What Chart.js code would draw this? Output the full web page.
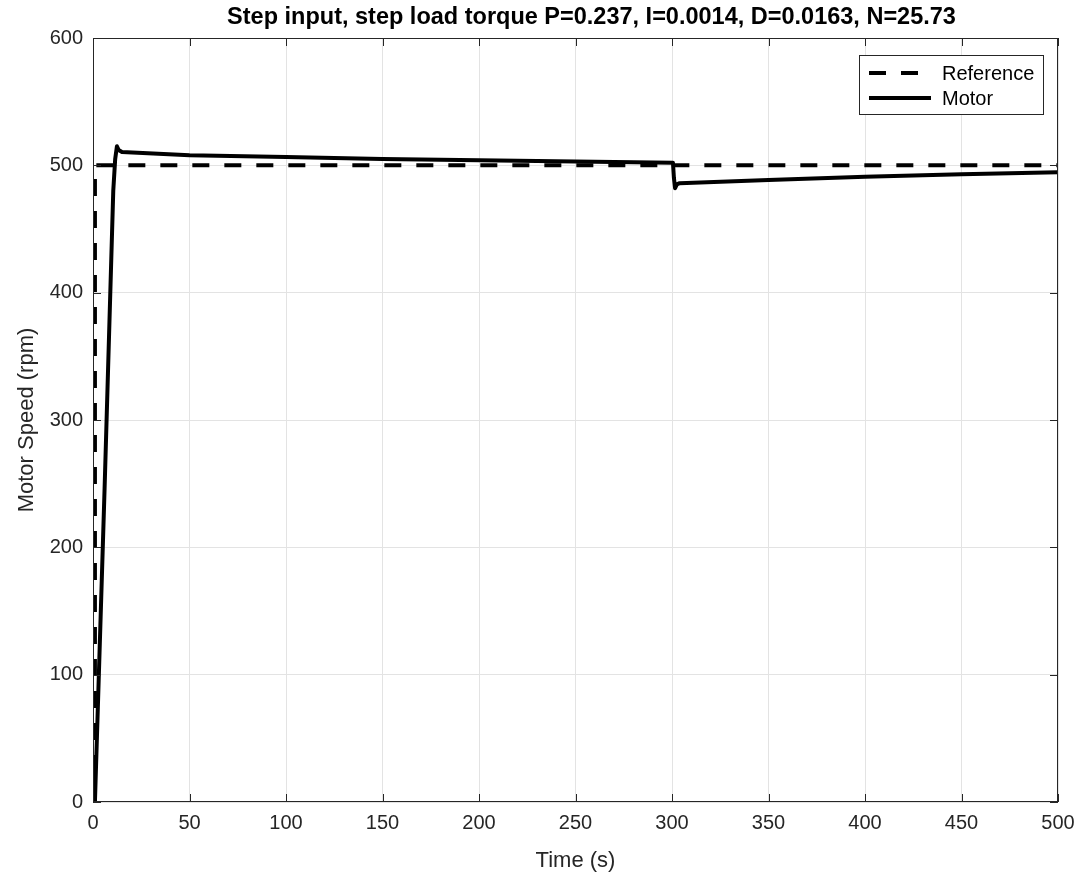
<!DOCTYPE html>
<html>
<head>
<meta charset="utf-8">
<title>Motor speed step response</title>
<script src="https://cdn.jsdelivr.net/npm/chart.js@4"></script>
<style>
  html, body { margin: 0; padding: 0; background: #fff; }
  #wrap { width: 1088px; height: 878px; }
</style>
</head>
<body>
<div id="wrap"><canvas id="speedChart" width="1088" height="878"></canvas></div>
<script>
// Reference speed (step at t = 1 s)
const refTime = [0, 1, 1, 500];
const refSpeed = [0, 0, 500, 500];

// Motor speed response, load torque step at t = 300 s
const motorTime = [0, 1, 6, 10.5, 11.5, 12.4, 13.3, 15, 50, 100, 150, 200, 250, 300.5, 301, 301.6, 302.5, 304, 350, 400, 450, 500];
const motorSpeed = [0, 0, 246, 480, 505, 515, 512, 510.5, 508, 506.5, 505, 504, 503, 502, 490, 482, 485, 486, 488.5, 491, 493, 494.5];

// Axis ticks
const timeTicks = [0, 50, 100, 150, 200, 250, 300, 350, 400, 450, 500];
const speedTicks = [0, 100, 200, 300, 400, 500, 600];

const titleText = 'Step input, step load torque P=0.237, I=0.0014, D=0.0163, N=25.73';

const axisColor = '#262626';
const fontFamily = '"Liberation Sans", Arial, Helvetica, sans-serif';

function toPoints(xs, ys) {
  return xs.map((x, i) => ({ x: x, y: ys[i] }));
}

// Box round the plot area with small inward ticks
const frame = {
  id: 'frame',
  afterDatasetsDraw(chart) {
    const { ctx, chartArea: a, scales } = chart;
    ctx.save();
    ctx.strokeStyle = axisColor;
    ctx.lineWidth = 1;
    ctx.strokeRect(a.left + 0.5, a.top + 0.5, a.right - a.left - 1, a.bottom - a.top - 1);
    const len = 8;
    ctx.beginPath();
    timeTicks.forEach(t => {
      const px = Math.round(scales.x.getPixelForValue(t)) + 0.5;
      ctx.moveTo(px, a.bottom); ctx.lineTo(px, a.bottom - len);
      ctx.moveTo(px, a.top); ctx.lineTo(px, a.top + len);
    });
    speedTicks.forEach(v => {
      const py = Math.round(scales.y.getPixelForValue(v)) + 0.5;
      ctx.moveTo(a.left, py); ctx.lineTo(a.left + len, py);
      ctx.moveTo(a.right, py); ctx.lineTo(a.right - len, py);
    });
    ctx.stroke();
    ctx.restore();
  }
};

// Bold title above the plot area
const plotTitle = {
  id: 'plotTitle',
  afterDraw(chart) {
    const { ctx, chartArea: a } = chart;
    ctx.save();
    ctx.font = 'bold 23.5px ' + fontFamily;
    ctx.fillStyle = '#000';
    ctx.textAlign = 'center';
    ctx.textBaseline = 'middle';
    ctx.fillText(titleText, (a.left + a.right) / 2 + 16, 18);
    ctx.restore();
  }
};

// Legend box in the upper right corner of the plot
const boxLegend = {
  id: 'boxLegend',
  afterDraw(chart) {
    const { ctx, chartArea: a } = chart;
    const w = 184, h = 59;
    const x0 = a.right - 15 - w, y0 = a.top + 17;
    ctx.save();
    ctx.fillStyle = '#fff';
    ctx.fillRect(x0, y0, w, h);
    ctx.strokeStyle = axisColor;
    ctx.lineWidth = 1;
    ctx.strokeRect(x0 + 0.5, y0 + 0.5, w, h);
    ctx.font = '20px ' + fontFamily;
    ctx.textBaseline = 'middle';
    chart.data.datasets.forEach((ds, i) => {
      const y = y0 + 18 + i * 25;
      ctx.strokeStyle = ds.borderColor;
      ctx.lineWidth = ds.borderWidth;
      ctx.setLineDash(ds.borderDash || []);
      ctx.beginPath();
      ctx.moveTo(x0 + 10, y);
      ctx.lineTo(x0 + 72, y);
      ctx.stroke();
      ctx.setLineDash([]);
      ctx.fillStyle = '#000';
      ctx.fillText(ds.label, x0 + 83, y + 1);
    });
    ctx.restore();
  }
};

const ctx = document.getElementById('speedChart').getContext('2d');
new Chart(ctx, {
  type: 'line',
  data: {
    datasets: [{
      label: 'Reference',
      data: toPoints(refTime, refSpeed),
      borderColor: '#000',
      borderWidth: 4,
      borderDash: [17, 15],
      pointRadius: 0,
      fill: false,
      tension: 0
    }, {
      label: 'Motor',
      data: toPoints(motorTime, motorSpeed),
      borderColor: '#000',
      borderWidth: 4,
      borderJoinStyle: 'round',
      borderCapStyle: 'round',
      pointRadius: 0,
      fill: false,
      tension: 0
    }]
  },
  options: {
    responsive: false,
    animation: false,
    layout: { padding: { left: 0, right: 30, top: 38, bottom: 0 } },
    plugins: {
      legend: { display: false },
      tooltip: { enabled: false },
      title: { display: false }
    },
    scales: {
      x: {
        type: 'linear',
        min: 0,
        max: 500,
        afterBuildTicks: s => { s.ticks = timeTicks.map(v => ({ value: v })); },
        afterFit: s => { s.height = 76; },
        ticks: { color: axisColor, font: { family: fontFamily, size: 20 }, padding: 9, maxRotation: 0 },
        grid: { color: '#e3e3e3', drawTicks: false },
        border: { display: false },
        title: {
          display: true,
          text: 'Time (s)',
          color: axisColor,
          font: { family: fontFamily, size: 22 },
          padding: { top: 4, bottom: 4 }
        }
      },
      y: {
        type: 'linear',
        min: 0,
        max: 600,
        afterBuildTicks: s => { s.ticks = speedTicks.map(v => ({ value: v })); },
        afterFit: s => { s.width = 93; },
        ticks: { color: axisColor, font: { family: fontFamily, size: 20 }, padding: 10 },
        grid: { color: '#e3e3e3', drawTicks: false },
        border: { display: false },
        title: {
          display: true,
          text: 'Motor Speed (rpm)',
          color: axisColor,
          font: { family: fontFamily, size: 22 },
          padding: { top: 14, bottom: 0 }
        }
      }
    }
  },
  plugins: [frame, plotTitle, boxLegend]
});
</script>
</body>
</html>
